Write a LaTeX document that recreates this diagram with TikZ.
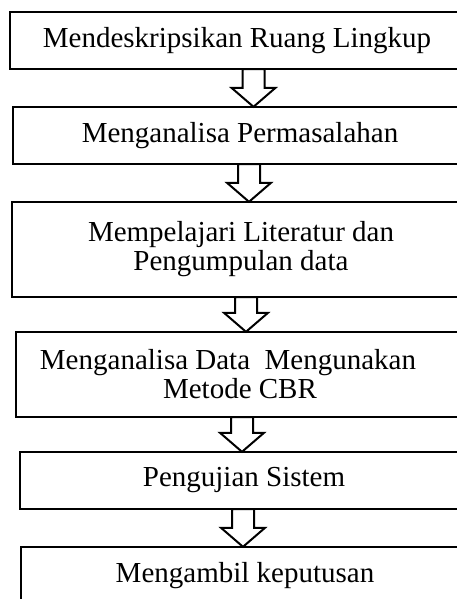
\documentclass[tikz,border=0pt]{standalone}
\usepackage{fontspec}
\setmainfont{Liberation Serif}
\usetikzlibrary{calc}

\tikzset{
  stepbox/.style={rectangle, minimum height=57pt, inner sep=0pt, align=center,
    font=\fontsize{29}{29}\selectfont},
  boxline/.style={draw, line width=2.4pt},
  arrowbox/.style={draw, fill=white, line width=2pt, miter limit=10}
}

% hollow block arrow from the bottom of one box to the top of the next
\newcommand{\blockarrow}[3]{%
  \draw[arrowbox] let \p1=(#2.south), \p2=(#3.north), \n1={\y2+19pt} in
    ({#1pt-11pt},\y1) -- ({#1pt-11pt},\n1) -- ({#1pt-22pt},\n1) -- ({#1pt},\y2)
    -- ({#1pt+22pt},\n1) -- ({#1pt+11pt},\n1) -- ({#1pt+11pt},\y1) -- cycle;
}

\begin{document}
\begin{tikzpicture}[x=1pt, y=-1pt]
\useasboundingbox (0,0) rectangle (457,599);
\clip (0,0) rectangle (457,599);

\node[stepbox, minimum width=454pt] (ruang) at (237,40.5) {Mendeskripsikan Ruang Lingkup};
\node[stepbox, minimum width=454pt] (masalah) at (240,135.5) {Menganalisa Permasalahan};
\node[stepbox, minimum width=458pt, minimum height=95pt] (literatur) at (241,249.5)
  {Mempelajari Literatur dan\\Pengumpulan data};
\node[stepbox, minimum width=448pt, minimum height=85pt] (cbr) at (240,374.5)
  {Menganalisa Data~~Mengunakan\hspace*{24pt}\\Metode CBR};
\node[stepbox, minimum width=448pt] (uji) at (244,480.5) {Pengujian Sistem};
\node[stepbox, minimum width=448pt] (putus) at (245,575.5) {Mengambil keputusan};

% boxes run on past the right edge of the page
\foreach \n in {ruang,masalah,literatur,cbr,uji,putus}
  \draw[boxline] (\n.south west) rectangle ([xshift=30pt]\n.north east);

\blockarrow{253.5}{ruang}{masalah}
\blockarrow{249}{masalah}{literatur}
\blockarrow{246}{literatur}{cbr}
\blockarrow{242}{cbr}{uji}
\blockarrow{243}{uji}{putus}
\end{tikzpicture}
\end{document}
